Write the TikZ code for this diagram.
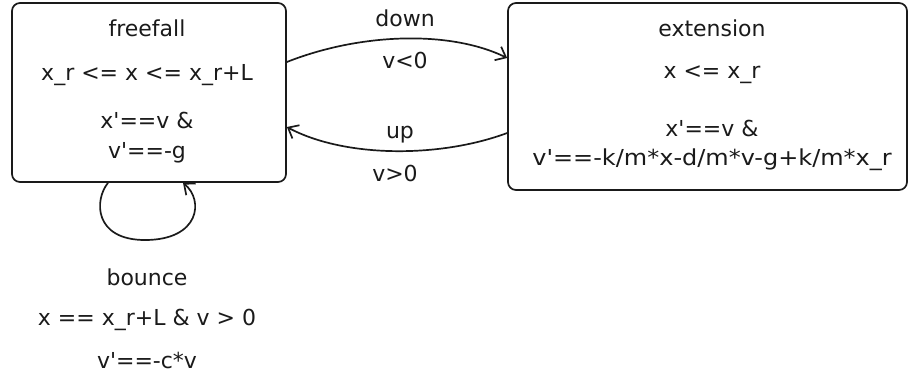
\documentclass[tikz,border=0pt]{standalone}
\usepackage{fontspec}
\setmainfont{DejaVu Sans}[Ligatures=TeXOff]
\usetikzlibrary{arrows.meta}
\definecolor{ink}{HTML}{1A1A1A}
\tikzset{
  statebox/.style={draw=ink, line width=1.7pt, rounded corners=8pt, inner sep=0pt},
  lbl/.style={inner sep=0pt, text=ink, font=\fontsize{22}{26}\selectfont, anchor=center},
  trans/.style={draw=ink, line width=1.7pt, -{Straight Barb[length=9pt,width=15pt,line width=1.7pt]}}
}
\begin{document}
\begin{tikzpicture}[x=1pt,y=-1pt]
\useasboundingbox (0,0) rectangle (910,376);
% states
\node[statebox, minimum width=274pt, minimum height=179pt] (ff) at (149,92.5) {};
\node[statebox, minimum width=399pt, minimum height=187pt] (ext) at (707.5,96.5) {};
% freefall texts
\node[lbl] (ffname) at (147,28) {freefall};
\node[lbl] (ffinv) at (147,75) {x\_r <= x <= x\_r+L};
\node[lbl] (ffflow1) at (147,120) {x'==v \&};
\node[lbl] (ffflow2) at (147,153) {v'==-g};
% extension texts
\node[lbl] (extname) at (712,28) {extension};
\node[lbl] (extinv) at (712,75) {x <= x\_r};
\node[lbl] (extflow1) at (712,128) {x'==v \&};
\node[lbl] (extflow2) at (712,160) {\scalebox{1.09}[1]{v'==-k/m*x-d/m*v-g+k/m*x\_r}};
% transitions
\draw[trans] ([yshift=30.5pt]ff.east) .. controls (360,33) and (450,30) .. ([yshift=38.5pt]ext.west);
\draw[trans] ([yshift=-36.5pt]ext.west) .. controls (440,158) and (345,158) .. ([yshift=-34.5pt]ff.east);
\coordinate (loopbot) at (145,240);
\draw[trans] ([xshift=-41pt]ff.south) .. controls (94,200) and (94,240) .. (loopbot)
  .. controls (200,240) and (204,200) .. ([xshift=34pt]ff.south);
% transition labels
\node[lbl] (downname) at (405,18) {down};
\node[lbl] (downguard) at (405,60) {v<0};
\node[lbl] (upname) at (400,135) {up};
\node[lbl] (upguard) at (395,173) {v>0};
\node[lbl] (bname) at (147,277) {bounce};
\node[lbl] (bguard) at (147,320) {x == x\_r+L \& v > 0};
\node[lbl] (breset) at (147,360) {v'==-c*v};
\end{tikzpicture}
\end{document}
